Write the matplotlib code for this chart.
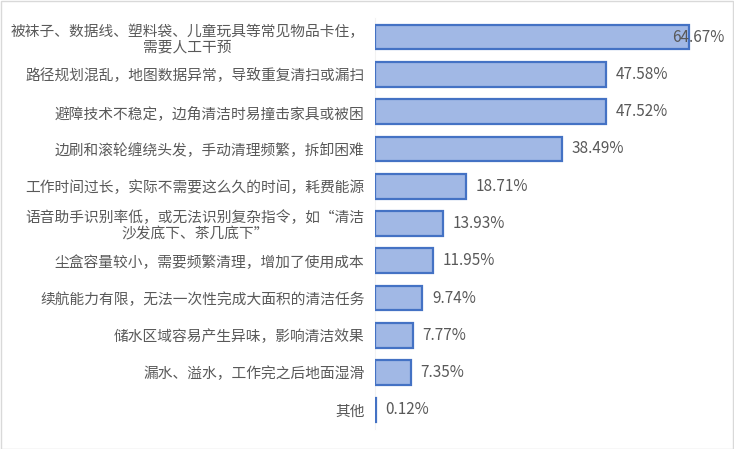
import matplotlib
matplotlib.use("Agg")
import matplotlib.pyplot as plt
from matplotlib.patches import Rectangle

plt.rcParams['font.family'] = ['Noto Sans CJK SC', 'DejaVu Sans']

categories = [
    "被袜子、数据线、塑料袋、儿童玩具等常见物品卡住，\n需要人工干预",
    "路径规划混乱，地图数据异常，导致重复清扫或漏扫",
    "避障技术不稳定，边角清洁时易撞击家具或被困",
    "边刷和滚轮缠绕头发，手动清理频繁，拆卸困难",
    "工作时间过长，实际不需要这么久的时间，耗费能源",
    "语音助手识别率低，或无法识别复杂指令，如“清洁\n沙发底下、茶几底下”",
    "尘盒容量较小，需要频繁清理，增加了使用成本",
    "续航能力有限，无法一次性完成大面积的清洁任务",
    "储水区域容易产生异味，影响清洁效果",
    "漏水、溢水，工作完之后地面湿滑",
    "其他",
]
values = [64.67, 47.58, 47.52, 38.49, 18.71, 13.93, 11.95, 9.74, 7.77, 7.35, 0.12]
value_labels = ["64.67%", "47.58%", "47.52%", "38.49%", "18.71%", "13.93%",
                "11.95%", "9.74%", "7.77%", "7.35%", "0.12%"]

W, H = 734, 449
fig = plt.figure(figsize=(W / 100, H / 100), dpi=100)
fig.patches.append(Rectangle((0.5 / W, 0.5 / H), 1 - 1.5 / W, 1 - 1.5 / H,
                             transform=fig.transFigure, fill=False,
                             edgecolor='#d9d9d9', linewidth=1.0))

xmax = 70.0
ppp = (689 - 375) / 64.67
left_px = 375
right_px = left_px + xmax * ppp
top_px = 18.4
bottom_px = 428.6
ax = fig.add_axes([left_px / W, 1 - bottom_px / H, (right_px - left_px) / W,
                   (bottom_px - top_px) / H])

ypos = list(range(len(values)))
ax.barh(ypos, values, height=0.66, color='#A1B8E5', edgecolor='#4472C4',
        linewidth=1.6, zorder=3)
ax.set_xlim(0, xmax)
ax.set_ylim(len(values) - 0.5, -0.5)

ax.set_yticks(ypos)
ax.set_yticklabels(categories, fontsize=10.6, color='#595959',
                   multialignment='center', linespacing=1.15)
ax.tick_params(axis='y', length=0, pad=7.5)
ax.set_xticks([])
for s in ['top', 'right', 'bottom']:
    ax.spines[s].set_visible(False)
ax.spines['left'].set_color('#f2f2f2')
ax.spines['left'].set_linewidth(0.8)

for i, (v, lab) in enumerate(zip(values, value_labels)):
    off = -17 if i == 0 else 10
    ax.annotate(lab, xy=(v, i), xytext=(off, 0), textcoords='offset pixels',
                ha='left', va='center', fontsize=11, color='#595959', zorder=4)

fig.savefig('out.png', dpi=100)
